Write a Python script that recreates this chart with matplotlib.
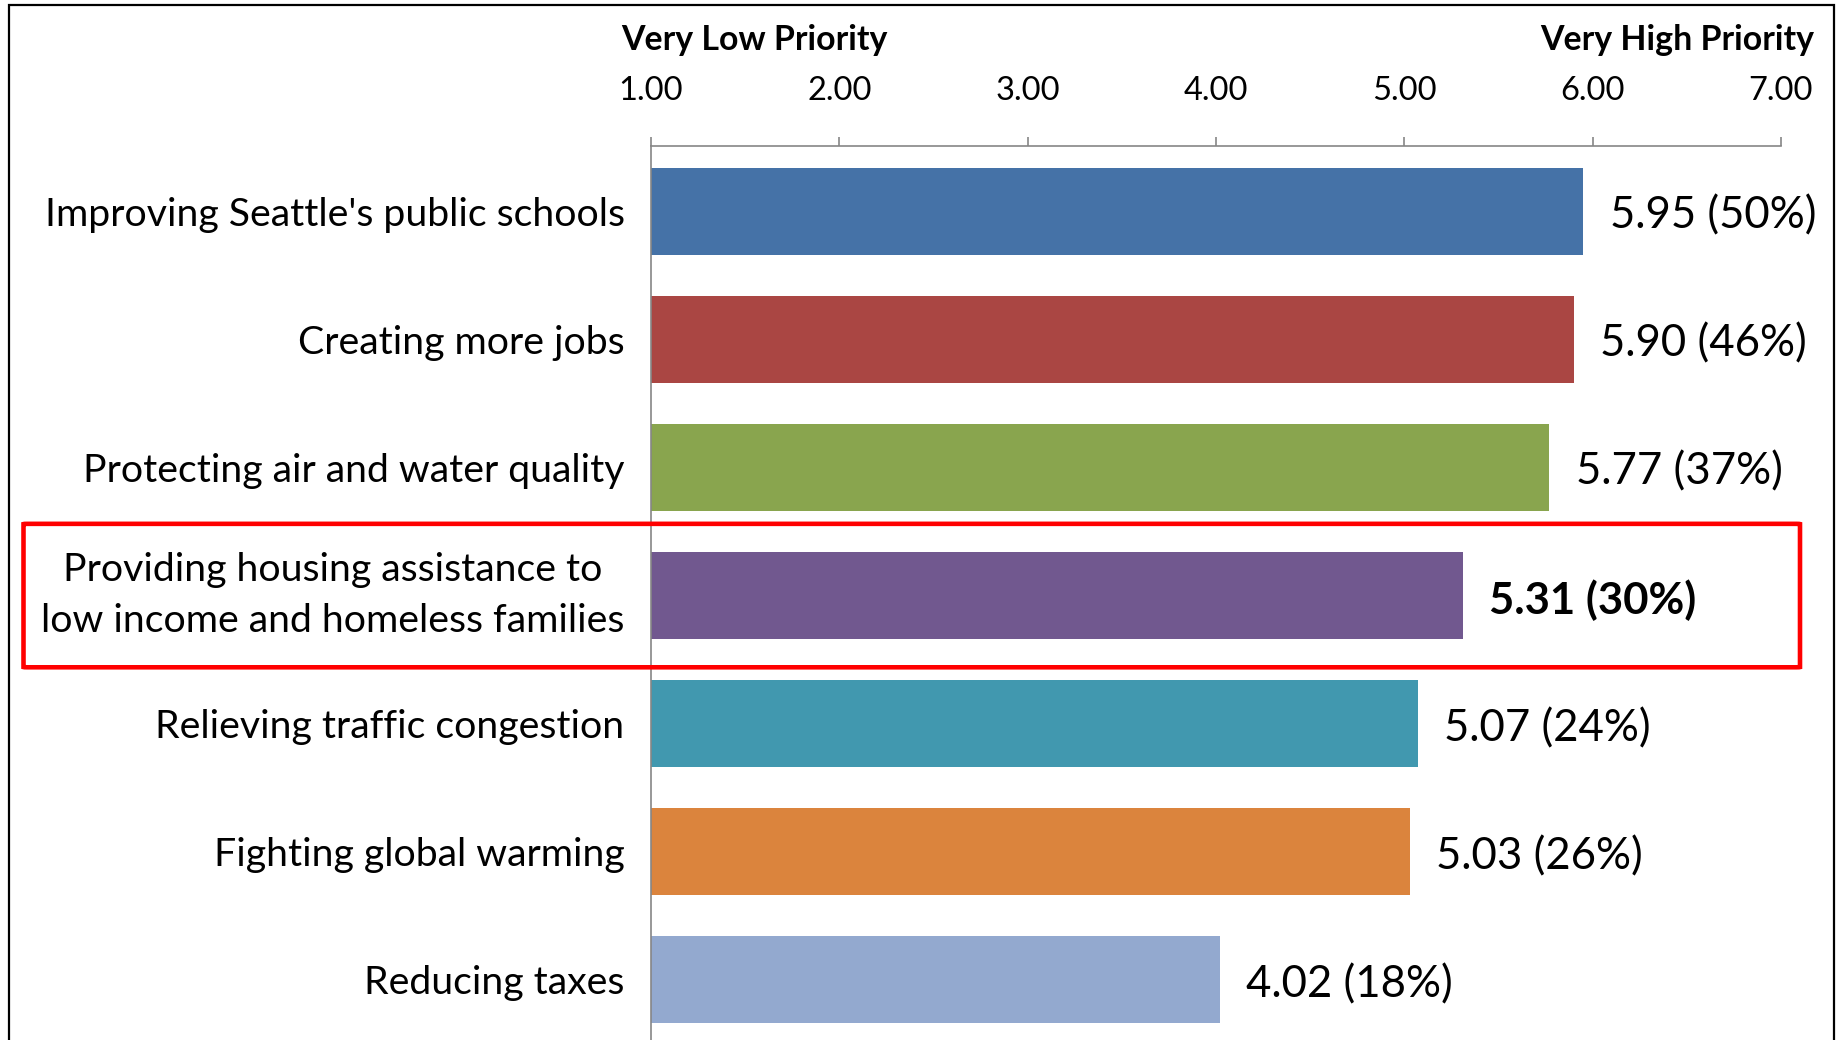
import matplotlib
matplotlib.use("Agg")
from matplotlib import pyplot as plt
from matplotlib import patches, transforms

# survey priorities (mean score, % very high)
categories = [
    "Improving Seattle's public schools",
    "Creating more jobs",
    "Protecting air and water quality",
    "Providing housing assistance to\nlow income and homeless families",
    "Relieving traffic congestion",
    "Fighting global warming",
    "Reducing taxes",
]
scores = [5.95, 5.90, 5.77, 5.31, 5.07, 5.03, 4.02]
pct_high = [50, 46, 37, 30, 24, 26, 18]
colors = ["#4572A7", "#AA4643", "#89A54E", "#71588F", "#4198AF", "#DB843D", "#93A9CF"]
ticks = [1, 2, 3, 4, 5, 6, 7]
highlight = 3

plt.rcParams['font.family'] = ['Lato', 'DejaVu Sans']

W, H = 1843, 1040
fig = plt.figure(figsize=(W / 100, H / 100), dpi=100)
ax = fig.add_axes([651 / W, 0, (1781 - 651) / W, 1 - 146 / H])

ypos = list(range(len(categories)))
ax.barh(ypos, [s - 1 for s in scores], left=1, height=0.68, color=colors)

ax.set_xlim(1, 7)
ax.set_ylim(6.47, -0.51)

# value labels
for i, (s, p) in enumerate(zip(scores, pct_high)):
    ax.annotate("%.2f (%d%%)" % (s, p), (s, i), xytext=(19, -3.5), textcoords='offset points',
                va='center', ha='left', fontsize=31.5,
                fontweight='bold' if i == highlight else 'normal')

# axes styling
gray = "#868686"
for side in ['right', 'bottom']:
    ax.spines[side].set_visible(False)
for side in ['top', 'left']:
    ax.spines[side].set_color(gray)
    ax.spines[side].set_linewidth(1.2)

ax.xaxis.tick_top()
ax.set_xticks(ticks)
ax.set_xticklabels(["%.2f" % t for t in ticks])
ax.tick_params(axis='x', direction='out', length=6.5, color=gray, width=1.2,
               labelsize=23.5, pad=22)

ax.set_yticks(ypos)
ax.set_yticklabels(categories, fontsize=28.3)
for lbl in ax.get_yticklabels():
    lbl.set_multialignment('center')
    lbl.set_linespacing(1.5)
    if "\n" in lbl.get_text():
        lbl.set_verticalalignment('center')
ax.tick_params(axis='y', length=0, pad=19)

# header texts
fig.text(621 / W, 1 - 40 / H, "Very Low Priority", fontsize=24.4, fontweight='bold',
         ha='left', va='center')
fig.text(1814 / W, 1 - 40 / H, "Very High Priority", fontsize=24.4, fontweight='bold',
         ha='right', va='center')

# red highlight box around the housing row
tr = transforms.blended_transform_factory(fig.transFigure, ax.transData)
box = patches.FancyBboxPatch((23.5 / W, highlight - 0.56), (1800 - 23.5) / W, 1.12,
                             boxstyle="round,pad=0,rounding_size=0.002",
                             transform=tr, fill=False, edgecolor="#FF0000",
                             linewidth=3.3, clip_on=False, zorder=5)
fig.patches.append(box)

# outer frame
frame = patches.Rectangle((9 / W, -0.1), (1834 - 9) / W, 1.1 - 5 / H,
                          transform=fig.transFigure, fill=False,
                          edgecolor="black", linewidth=1.6)
fig.patches.append(frame)

fig.savefig("out.png", dpi=100)
